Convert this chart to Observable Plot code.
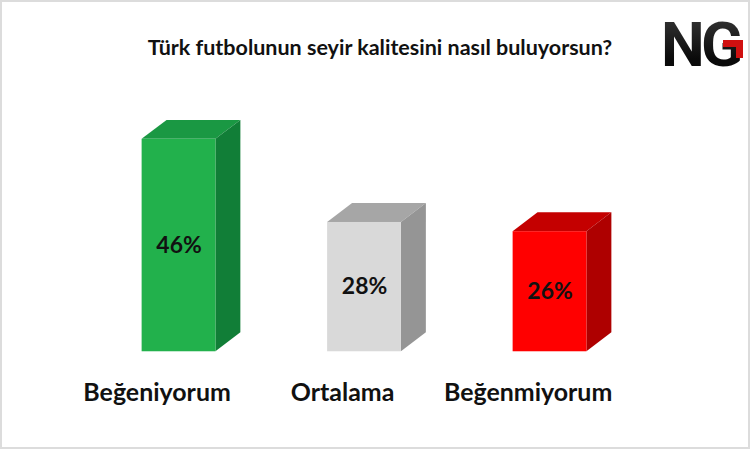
<!DOCTYPE html>
<html>
<head>
<meta charset="utf-8">
<script src="https://cdn.jsdelivr.net/npm/d3@7"></script>
<script src="https://cdn.jsdelivr.net/npm/@observablehq/plot@0.6"></script>
<style>
  html, body { margin: 0; padding: 0; background: #fff; }
  #wrap { position: relative; width: 750px; height: 449px; box-sizing: border-box; border: 2px solid #dcdcdc; overflow: hidden; font-family: Lato, "Open Sans", sans-serif; }
  #title { position: absolute; left: 0; width: 750px; top: 32px; text-align: center; font-size: 21.5px; font-weight: 700; color: #111; margin-left: 3px; }
  #head { height: 78px; }
  #logo { position: absolute; left: 650px; top: 2px; }
  #chart { position: absolute; left: -2px; top: 78px; }
</style>
</head>
<body>
<div id="wrap">
  <div id="head"></div>
  <div id="title">Türk futbolunun seyir kalitesini nasıl buluyorsun?</div>
  <svg id="logo" width="96" height="92" viewBox="0 0 96 92">
    <defs>
      <linearGradient id="lg" x1="0" y1="0" x2="0" y2="1">
        <stop offset="0" stop-color="#3c3c3c"/>
        <stop offset="0.7" stop-color="#0a0a0a"/>
      </linearGradient>
    </defs>
    <text x="9" y="62" font-family="Roboto, Lato, sans-serif" font-weight="700" font-size="62" fill="url(#lg)">N</text>
    <text x="49" y="62" font-family="Roboto, Lato, sans-serif" font-weight="700" font-size="62" fill="url(#lg)">G</text>
    <path d="M71 36 h20 v18 h-7 v-11 h-13 z" fill="#d01010"/>
  </svg>
  <div id="chart"></div>
</div>
<script>
const categories = ["Beğeniyorum", "Ortalama", "Beğenmiyorum"];
const values = [46, 28, 26];
const valueLabels = ["46%", "28%", "26%"];

const frontPalette = ["#22b14c", "#d9d9d9", "#ff0000"];
const topPalette = ["#1a9843", "#a6a6a6", "#c40000"];
const sidePalette = ["#117e37", "#959595", "#ae0000"];

const data = categories.map((c, i) => ({cat: c, value: values[i], label: valueLabels[i]}));

const DX = 25, DY = 19;

function faces(index, scales) {
  const g = d3.create("svg:g");
  const bwRaw = scales.x.bandwidth;
  const bw = typeof bwRaw === "function" ? bwRaw() : bwRaw;
  for (const i of index) {
    const d = data[i];
    const x0 = scales.x(d.cat), x1 = x0 + bw;
    const yv = scales.y(d.value), yb = scales.y(0);
    g.append("polygon")
      .attr("points", [[x0, yv], [x0 + DX, yv - DY], [x1 + DX, yv - DY], [x1, yv]].map(p => p.join(",")).join(" "))
      .attr("fill", topPalette[i]);
    g.append("polygon")
      .attr("points", [[x1, yv], [x1 + DX, yv - DY], [x1 + DX, yb - DY], [x1, yb]].map(p => p.join(",")).join(" "))
      .attr("fill", sidePalette[i]);
  }
  return g.node();
}

const chart = Plot.plot({
  width: 750,
  height: 369,
  marginTop: 59,
  marginBottom: 97,
  marginLeft: 141.5,
  marginRight: 162,
  x: {domain: categories, paddingInner: 0.6, paddingOuter: 0},
  y: {domain: [0, 46], axis: null},
  color: {domain: categories, range: frontPalette},
  style: {fontFamily: "Lato, 'Open Sans', sans-serif", color: "#111"},
  marks: [
    Plot.barY(data, {x: "cat", y: "value", render: (index, scales) => faces(index, scales)}),
    Plot.barY(data, {x: "cat", y: "value", fill: "cat"}),
    Plot.text(data, {x: "cat", y: d => d.value / 2, text: "label", fontSize: 23, fontWeight: "bold", fill: "#111"}),
    Plot.axisX({tickSize: 0, tickPadding: 32, fontSize: 25, fontWeight: "bold", dx: -22, label: null, fill: "#111"})
  ]
});
document.getElementById("chart").appendChild(chart);
</script>
</body>
</html>
